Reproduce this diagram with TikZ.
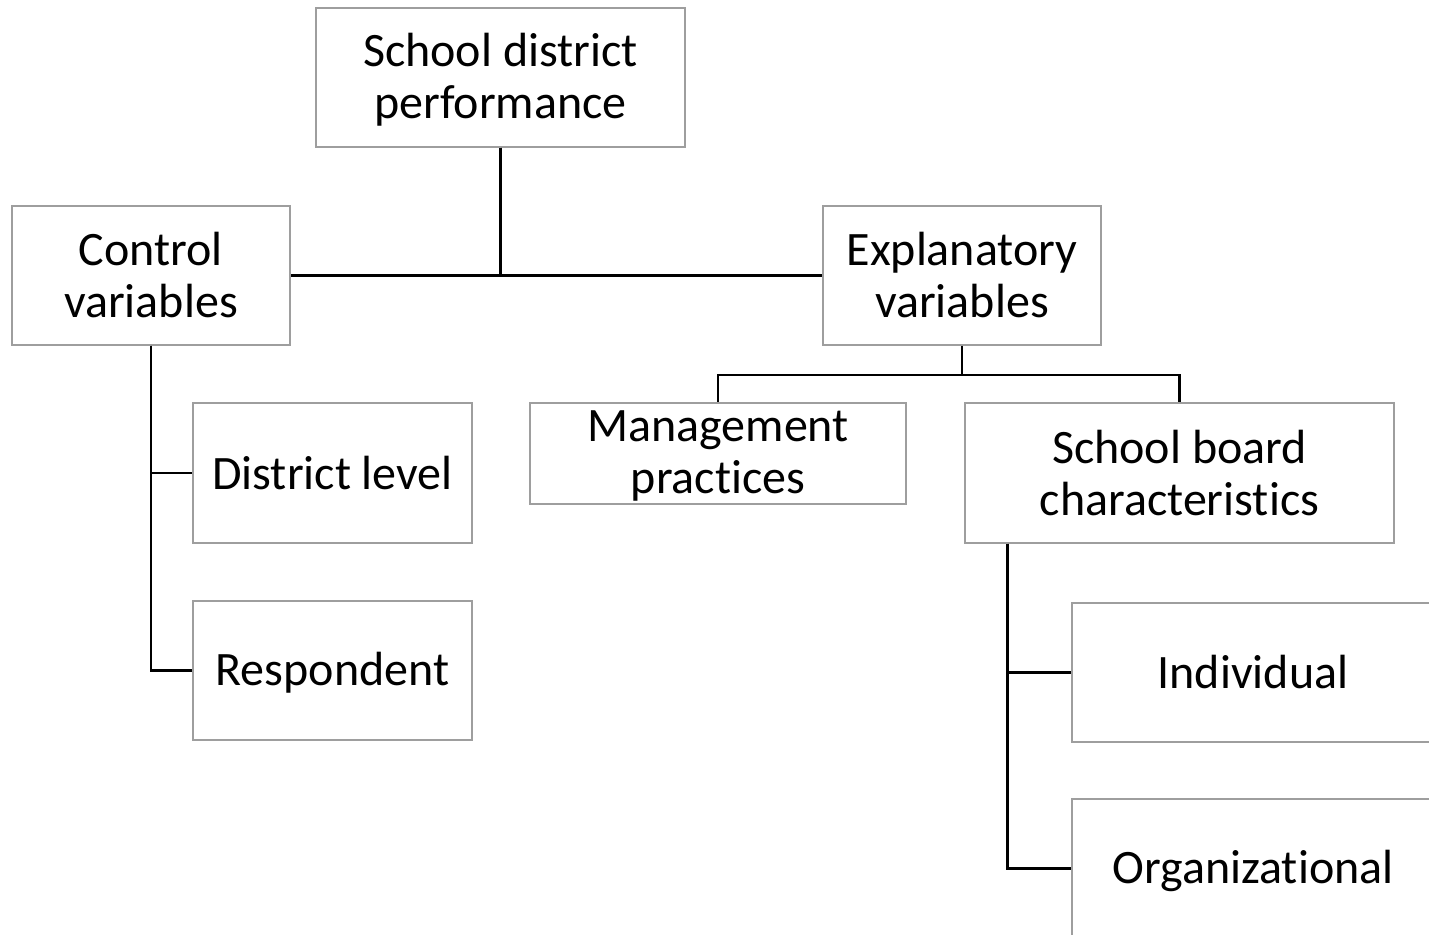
\documentclass[tikz,border=0pt]{standalone}
\usepackage{fontspec}
\setmainfont{Carlito}[RawFeature={-liga}]
\begin{document}
\begin{tikzpicture}[x=1pt,y=-1pt,
  box/.style={draw=black!38, line width=1.4pt, fill=white, rectangle, inner sep=0pt},
  lbl/.style={align=center, inner sep=0pt, font=\fontsize{48}{52}\selectfont},
  link/.style={draw=black, line width=2.4pt}]
\useasboundingbox (0,0) rectangle (1429,934);
\clip (0,0) rectangle (1429,934);
\fill[white] (0,0) rectangle (1429,934);

% boxes
\node[box, minimum width=369pt, minimum height=139pt] (sdp)   at (500.5,77.5)  {};
\node[box, minimum width=278pt, minimum height=139pt] (ctrl)  at (151,275.5)   {};
\node[box, minimum width=278pt, minimum height=139pt] (expl)  at (962,275.5)   {};
\node[box, minimum width=279pt, minimum height=140pt] (dist)  at (332.5,473)   {};
\node[box, minimum width=279pt, minimum height=139pt] (resp)  at (332.5,670.5) {};
\node[box, minimum width=376pt, minimum height=101pt] (mgmt)  at (718,453.5)   {};
\node[box, minimum width=429pt, minimum height=140pt] (board) at (1179.5,473)  {};
\node[box, minimum width=362pt, minimum height=139pt] (indiv) at (1253,672.5)  {};
\node[box, minimum width=362pt, minimum height=139pt] (org)   at (1253,868.5)  {};

% labels (yshift is in page direction: negative moves down)
\node[lbl] (tsdp)   at ([yshift=-2pt]sdp)   {School district\\performance};
\node[lbl] (tctrl)  at (ctrl)  {Control\\variables};
\node[lbl] (texpl)  at (expl)  {Explanatory\\variables};
\node[lbl] (tdist)  at (dist)  {District level};
\node[lbl] (tresp)  at ([yshift=-2pt]resp)  {Respondent};
\node[lbl] (tmgmt)  at ([yshift=-2pt]mgmt)  {Management\\practices};
\node[lbl] (tboard) at (board) {School board\\characteristics};
\node[lbl] (tindiv) at (indiv) {Individual};
\node[lbl] (torg)   at ([yshift=-2pt]org)   {Organizational};

% connectors
\draw[link] (sdp.south) |- (ctrl.east);
\draw[link] (sdp.south) |- (expl.west);
\draw[link] (ctrl.south) |- (dist.west);
\draw[link] (ctrl.south) |- (resp.west);
\draw[link] (expl.south) -- ++(0,29) coordinate (ej);
\draw[link] (ej) -| (mgmt.north);
\draw[link] (ej) -| (board.north);
\coordinate (bs) at ([xshift=43pt]board.south west);
\draw[link] (bs) |- (indiv.west);
\draw[link] (bs) |- (org.west);
\end{tikzpicture}
\end{document}
